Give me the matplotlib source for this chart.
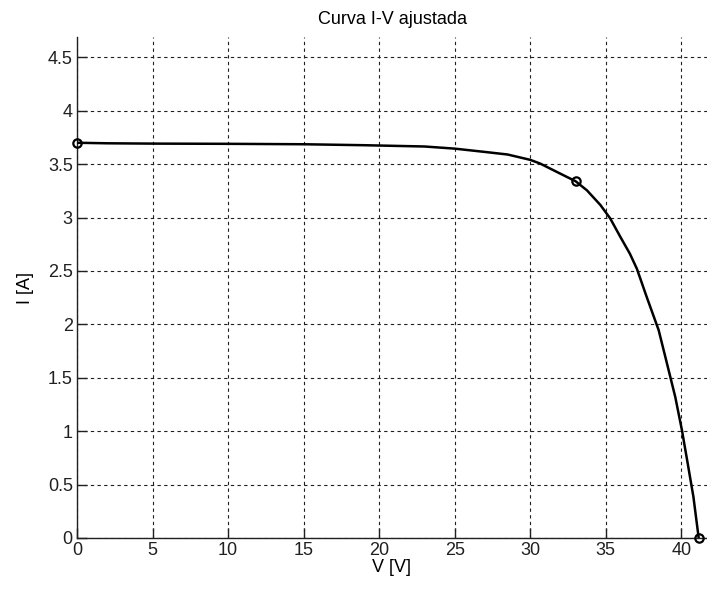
import matplotlib
matplotlib.use("Agg")
import matplotlib.pyplot as plt

# curve
volts = [0, 2, 5, 10, 15, 19, 23, 25, 27, 28.5, 30, 30.66, 32, 33, 33.75, 34.64,
         35.3, 35.96, 36.6, 37.06, 37.7, 38.5, 39.05, 39.6, 40.04, 40.42, 40.8, 41.15]
amps = [3.70, 3.695, 3.692, 3.69, 3.686, 3.677, 3.665, 3.645, 3.614, 3.59, 3.54,
        3.505, 3.41, 3.34, 3.255, 3.118, 2.99, 2.82, 2.66, 2.52, 2.26, 1.946,
        1.634, 1.32, 1.01, 0.70, 0.386, 0.0]

# measured points (Isc, MPP, Voc)
pts_v = [0, 33, 41.15]
pts_i = [3.70, 3.34, 0.0]

xticks = [0, 5, 10, 15, 20, 25, 30, 35, 40]
yticks = [0, 0.5, 1, 1.5, 2, 2.5, 3, 3.5, 4, 4.5]

plt.rcParams['font.family'] = ['Liberation Sans Narrow', 'Liberation Sans', 'DejaVu Sans']

fig = plt.figure(figsize=(7.07, 5.97), dpi=100)
ax = fig.add_axes([77 / 707, 59 / 597, 630 / 707, 501 / 597])

ax.plot(volts, amps, color='black', linewidth=1.8, zorder=3)
ax.plot(pts_v, pts_i, linestyle='none', marker='o', markersize=6,
        markerfacecolor='none', markeredgecolor='black', markeredgewidth=1.6,
        zorder=4, clip_on=False)

ax.set_xlim(0, 41.7)
ax.set_ylim(0, 4.69)
ax.set_xticks(xticks)
ax.set_yticks(yticks)
ax.set_yticklabels(['0', '0.5', '1', '1.5', '2', '2.5', '3', '3.5', '4', '4.5'])

ax.grid(True, color='#202020', linestyle=(0, (3, 3)), linewidth=0.8)
ax.spines['top'].set_visible(False)
ax.spines['right'].set_visible(False)
for s in ('left', 'bottom'):
    ax.spines[s].set_color('#202020')
    ax.spines[s].set_linewidth(1.0)
ax.tick_params(direction='in', length=7, width=1.0, labelsize=13,
               colors='#202020', pad=3)

ax.set_xlabel('V [V]', fontsize=13, labelpad=0)
ax.set_ylabel('I [A]', fontsize=13, labelpad=10)
ax.set_title('Curva I-V ajustada', fontsize=13, pad=9)

fig.savefig('out.png', dpi=100)
